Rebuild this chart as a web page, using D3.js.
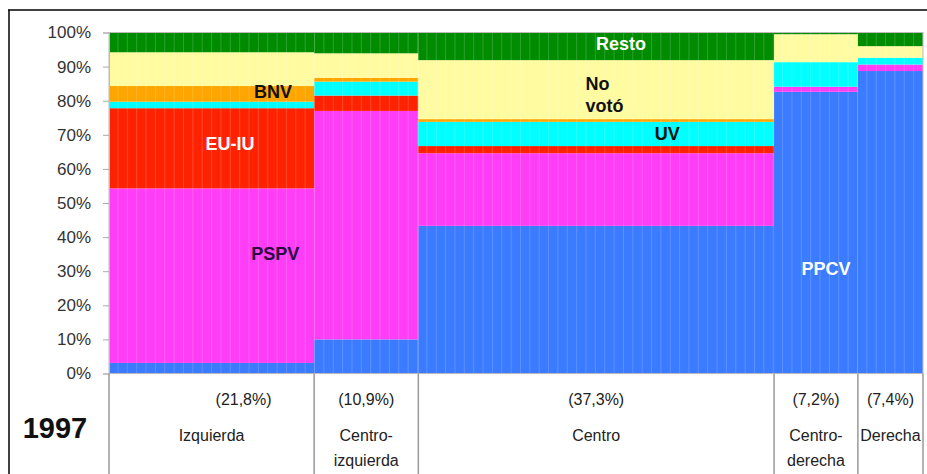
<!DOCTYPE html>
<html>
<head>
<meta charset="utf-8">
<script src="https://cdn.jsdelivr.net/npm/d3@7"></script>
<style>
  body { margin: 0; background: #fff; }
  svg { display: block; font-family: "Liberation Sans", Arial, Helvetica, sans-serif; }
</style>
</head>
<body>
<script>
// ideological self-placement groups (1997)
var categories = ['Izquierda', 'Centro-izquierda', 'Centro', 'Centro-derecha', 'Derecha'];
var pctLabels = ['(21,8%)', '(10,9%)', '(37,3%)', '(7,2%)', '(7,4%)'];
// column widths (share of the axis, %)
var colShare = [25.2, 12.8, 43.7, 10.3, 8.0];

var parties = ['PPCV', 'PSPV', 'EU-IU', 'UV', 'BNV', 'No votó', 'Resto'];
var ppcv  = [3.1, 10.0, 43.3, 82.6, 88.7];
var pspv  = [51.2, 67.0, 21.3, 1.5, 1.9];
var euiu  = [23.5, 4.5, 2.1, 0, 0];
var uv    = [1.9, 4.1, 7.1, 7.2, 2.0];
var bnv   = [4.6, 1.1, 0.8, 0, 0];
var novoto = [9.9, 7.2, 17.3, 8.2, 3.4];
var resto = [5.8, 6.1, 8.1, 0.4, 4.0];

var yTicks = [0, 10, 20, 30, 40, 50, 60, 70, 80, 90, 100];

var colors = {
  'PPCV': '#3a7bff', 'PSPV': '#ff3cf6', 'EU-IU': '#ff2200', 'UV': '#00ffff',
  'BNV': '#ffa500', 'No votó': '#fffba0', 'Resto': '#008c00'
};

var width = 927, height = 474;

var rows = categories.map(function(c, i) {
  return {cat: c, 'PPCV': ppcv[i], 'PSPV': pspv[i], 'EU-IU': euiu[i], 'UV': uv[i],
          'BNV': bnv[i], 'No votó': novoto[i], 'Resto': resto[i]};
});

var starts = [];
var acc = 0;
colShare.forEach(function(s) { starts.push(acc); acc += s; });

var x = d3.scaleLinear().domain([0, acc]).range([109, 923]);
var y = d3.scaleLinear().domain([0, 100]).range([373.5, 32.5]);

var svg = d3.select('body')
            .append('svg')
            .attr('width', width)
            .attr('height', height);

// outer frame (top + left)
svg.append('line').attr('x1', 8).attr('x2', width).attr('y1', 10).attr('y2', 10)
   .attr('stroke', '#000').attr('stroke-width', 1.5);
svg.append('line').attr('x1', 9).attr('x2', 9).attr('y1', 10).attr('y2', height)
   .attr('stroke', '#000').attr('stroke-width', 1.5);

var series = d3.stack().keys(parties)(rows);

var grp = svg.append('g');
series.forEach(function(s) {
  grp.selectAll('rect.r' + s.index)
     .data(s)
     .enter()
     .append('rect')
     .attr('class', 'r' + s.index)
     .attr('x', function(d, i) { return x(starts[i]); })
     .attr('width', function(d, i) { return x(starts[i] + colShare[i]) - x(starts[i]); })
     .attr('y', function(d) { return y(d[1]); })
     .attr('height', function(d) { return y(d[0]) - y(d[1]); })
     .attr('fill', colors[s.key]);
});

// faint thin column lines
grp.selectAll('line.thin')
   .data(d3.range(1.1, acc, 1.15))
   .enter()
   .append('line')
   .attr('class', 'thin')
   .attr('x1', function(d) { return x(d); })
   .attr('x2', function(d) { return x(d); })
   .attr('y1', y(100)).attr('y2', y(0))
   .attr('stroke', 'rgba(255,255,255,0.18)')
   .attr('stroke-width', 1);

// plot border
svg.append('rect').attr('x', x(0)).attr('y', y(100))
   .attr('width', x(acc) - x(0)).attr('height', y(0) - y(100))
   .attr('fill', 'none').attr('stroke', '#bbb').attr('stroke-width', 1);

// y axis
var yAxis = d3.axisLeft(y)
              .tickValues(yTicks)
              .tickFormat(function(d) { return d + '%'; })
              .tickSize(6)
              .tickPadding(12);
var ax = svg.append('g').attr('transform', 'translate(' + x(0) + ',0)').call(yAxis);
ax.select('.domain').attr('stroke', '#bbb');
ax.selectAll('.tick line').attr('stroke', '#aaa');
ax.selectAll('.tick text')
  .attr('fill', '#333')
  .style('font-size', '17px')
  .style('font-family', '"Liberation Sans", Arial, sans-serif');

// category dividers under the bars
var edges = starts.concat([acc]);
svg.selectAll('line.div')
   .data(edges)
   .enter()
   .append('line')
   .attr('class', 'div')
   .attr('x1', function(d) { return x(d); })
   .attr('x2', function(d) { return x(d); })
   .attr('y1', y(0)).attr('y2', height)
   .attr('stroke', '#999').attr('stroke-width', 1.5);

// category labels
var lab = svg.append('g').attr('font-size', 16).attr('fill', '#222').attr('text-anchor', 'middle');
categories.forEach(function(c, i) {
  var cx = x(starts[i] + colShare[i] / 2);
  lab.append('text').attr('x', cx + (i === 0 ? 32 : 0)).attr('y', 405).text(pctLabels[i]);
  var parts = c.split('-');
  if (parts.length > 1) {
    lab.append('text').attr('x', cx).attr('y', 441).text(parts[0] + '-');
    lab.append('text').attr('x', cx).attr('y', 466).text(parts[1]);
  } else {
    lab.append('text').attr('x', cx).attr('y', 441).text(c);
  }
});

svg.append('text').attr('x', 55).attr('y', 438)
   .attr('text-anchor', 'middle')
   .attr('font-size', 29).attr('font-weight', 'bold').attr('fill', '#111')
   .text('1997');

// party labels inside the bars: [text, column, position in column (0-1), y %, colour, anchor]
var barLabels = [
  ['Resto', 2, 0.57, 96.6, '#fff', 'middle'],
  ['No', 2, 0.47, 84.9, '#111', 'start'],
  ['votó', 2, 0.47, 78.6, '#111', 'start'],
  ['UV', 2, 0.70, 70.2, '#111', 'middle'],
  ['BNV', 0, 0.80, 82.6, '#111', 'middle'],
  ['EU-IU', 0, 0.59, 67.5, '#fff', 'middle'],
  ['PSPV', 0, 0.81, 35.2, '#2a0a40', 'middle'],
  ['PPCV', 3, 0.62, 30.6, '#fff', 'middle']
];
svg.selectAll('text.blab')
   .data(barLabels)
   .enter()
   .append('text')
   .attr('class', 'blab')
   .attr('x', function(d) { return x(starts[d[1]] + colShare[d[1]] * d[2]); })
   .attr('y', function(d) { return y(d[3]); })
   .attr('dy', '0.35em')
   .attr('text-anchor', function(d) { return d[5]; })
   .attr('font-size', 18)
   .attr('font-weight', 'bold')
   .attr('fill', function(d) { return d[4]; })
   .text(function(d) { return d[0]; });
</script>
</body>
</html>
